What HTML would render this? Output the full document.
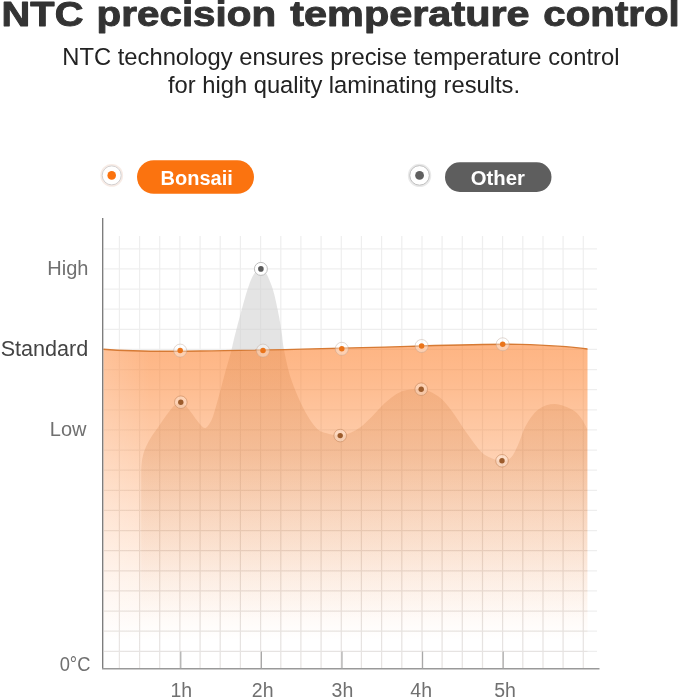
<!DOCTYPE html>
<html><head><meta charset="utf-8"><title>NTC precision temperature control</title>
<style>
html,body{margin:0;padding:0;background:#fff;}
body{width:679px;height:699px;overflow:hidden;position:relative;font-family:"Liberation Sans",sans-serif;}
svg{position:absolute;left:0;top:0;display:block}
text{font-family:"Liberation Sans",sans-serif;}
</style></head><body>
<svg width="679" height="699" viewBox="0 0 679 699">
<defs>
<linearGradient id="og" gradientUnits="userSpaceOnUse" x1="0" y1="349" x2="0" y2="669">
<stop offset="0" stop-color="#fd8432" stop-opacity="0.60"/>
<stop offset="0.097" stop-color="#fd8432" stop-opacity="0.55"/>
<stop offset="0.284" stop-color="#fd8432" stop-opacity="0.42"/>
<stop offset="0.534" stop-color="#fd8432" stop-opacity="0.23"/>
<stop offset="0.722" stop-color="#fd8432" stop-opacity="0.10"/>
<stop offset="0.91" stop-color="#fd8432" stop-opacity="0"/>
</linearGradient>
<linearGradient id="gg" gradientUnits="userSpaceOnUse" x1="0" y1="269" x2="0" y2="669">
<stop offset="0.0000" stop-color="#bc5a14" stop-opacity="0.15"/>
<stop offset="0.4650" stop-color="#bc5a14" stop-opacity="0.15"/>
<stop offset="0.5025" stop-color="#bc5a14" stop-opacity="0.128"/>
<stop offset="0.6250" stop-color="#bc5a14" stop-opacity="0.078"/>
<stop offset="0.7775" stop-color="#bc5a14" stop-opacity="0.03"/>
<stop offset="0.8775" stop-color="#bc5a14" stop-opacity="0"/>
</linearGradient>
<linearGradient id="lw" gradientUnits="userSpaceOnUse" x1="103" y1="0" x2="150" y2="0"><stop offset="0" stop-color="#fff" stop-opacity="0.17"/><stop offset="1" stop-color="#fff" stop-opacity="0"/></linearGradient>
<clipPath id="cpo"><path d="M103.4 349.2 C130 351.3 180 351.3 200 351 C260 350.5 330 348.5 420 346 C470 344.6 500 344 520 344.4 C550 345.2 575 347.3 587.5 349 L587.5 669 L103.4 669 Z"/></clipPath>
<clipPath id="cpa"><path d="M103.4 200 L103.4 349.2 C130 351.3 180 351.3 200 351 C260 350.5 330 348.5 420 346 C470 344.6 500 344 520 344.4 C550 345.2 575 347.3 587.5 349 L587.5 200 Z"/></clipPath>
<linearGradient id="g2" gradientUnits="userSpaceOnUse" x1="0" y1="349" x2="0" y2="669"><stop offset="0.2" stop-color="#7a3a10" stop-opacity="0"/><stop offset="0.62" stop-color="#7a3a10" stop-opacity="0.06"/><stop offset="1" stop-color="#6a3a20" stop-opacity="0.06"/></linearGradient>
</defs>

<path id="grid" d="M119.4 236V668M139.6 236V668M159.7 236V668M179.9 236V668M200.1 236V668M220.2 236V668M240.4 236V668M260.6 236V668M280.8 236V668M300.9 236V668M321.1 236V668M341.3 236V668M361.4 236V668M381.6 236V668M401.8 236V668M422.0 236V668M442.1 236V668M462.3 236V668M482.5 236V668M502.6 236V668M522.8 236V668M543.0 236V668M563.1 236V668M583.3 236V668M104 248.8H597M104 268.9H597M104 289.1H597M104 309.2H597M104 329.3H597M104 349.4H597M104 369.6H597M104 389.7H597M104 409.8H597M104 429.9H597M104 450.1H597M104 470.2H597M104 490.3H597M104 510.4H597M104 530.5H597M104 550.7H597M104 570.8H597M104 590.9H597M104 611.0H597M104 631.2H597M104 651.3H597" stroke="#000" stroke-opacity="0.068" stroke-width="1.25" fill="none"/>
<path id="orange" d="M103.4 349.2 C130 351.3 180 351.3 200 351 C260 350.5 330 348.5 420 346 C470 344.6 500 344 520 344.4 C550 345.2 575 347.3 587.5 349 L587.5 668 L103.4 668 Z" fill="url(#og)"/>
<rect x="103" y="340" width="50" height="329" fill="url(#lw)"/>
<path id="gray" d="M141.2 472.0C141.3 470.6 141.3 466.6 141.6 463.7C141.9 460.8 142.3 457.8 143.2 454.6C144.1 451.4 145.6 447.7 147.2 444.3C148.8 440.9 151.0 437.5 152.9 434.5C154.8 431.5 156.7 429.3 158.6 426.5C160.5 423.7 162.1 421.0 164.4 417.9C166.7 414.8 170.3 410.0 172.4 407.6C174.5 405.2 175.5 404.7 177.0 403.8C178.5 402.9 179.7 401.9 181.2 402.3C182.7 402.7 184.2 404.1 186.0 406.0C187.8 407.9 189.5 410.4 191.9 413.6C194.3 416.8 198.3 422.6 200.7 425.0C203.0 427.4 204.1 428.7 206.0 427.7C207.9 426.7 210.1 423.4 212.0 419.0C213.9 414.6 215.4 408.3 217.5 401.0C219.6 393.7 222.2 383.4 224.5 375.0C226.8 366.6 229.8 356.5 231.3 350.7C232.8 344.9 232.6 344.8 233.7 340.3C234.8 335.8 236.4 329.5 237.9 323.8C239.4 318.1 241.1 311.7 242.7 306.0C244.3 300.3 245.9 294.3 247.5 289.5C249.1 284.7 250.8 280.2 252.3 277.1C253.8 274.0 255.1 272.3 256.5 270.9C257.9 269.5 259.4 268.9 260.8 268.9C262.2 268.9 263.4 269.5 264.6 270.9C265.8 272.3 266.7 274.0 268.1 277.1C269.5 280.2 271.5 285.1 272.9 289.5C274.3 293.9 275.3 298.6 276.3 303.2C277.3 307.8 278.2 312.0 279.1 317.0C280.0 322.0 281.0 327.8 281.8 333.4C282.6 339.0 282.7 343.1 284.2 350.7C285.7 358.3 287.9 369.4 291.0 378.8C294.1 388.2 298.9 399.3 303.0 407.4C307.1 415.5 312.1 423.1 315.9 427.4C319.7 431.7 321.9 431.6 325.9 433.0C329.9 434.4 335.8 435.5 339.8 435.5C343.8 435.5 346.5 434.4 350.0 433.0C353.5 431.6 357.1 429.6 360.6 427.0C364.1 424.4 367.5 421.0 371.0 417.5C374.5 414.0 378.4 409.3 381.8 406.0C385.2 402.7 388.2 399.9 391.5 397.5C394.8 395.1 398.1 392.8 401.3 391.5C404.6 390.2 407.7 389.9 411.0 389.5C414.3 389.1 417.5 388.7 421.0 389.2C424.5 389.7 428.2 390.5 432.0 392.5C435.8 394.5 439.9 397.2 443.7 401.0C447.5 404.8 451.3 410.3 455.0 415.5C458.7 420.7 461.8 426.2 466.0 432.0C470.2 437.8 476.0 446.2 480.0 450.5C484.0 454.8 486.4 455.8 490.0 457.5C493.6 459.2 498.1 461.0 501.6 461.0C505.1 461.0 508.3 460.2 511.0 457.5C513.7 454.8 515.5 450.4 518.0 445.0C520.5 439.6 522.8 431.0 526.2 425.0C529.6 419.0 533.8 412.7 538.6 409.2C543.4 405.7 549.3 403.9 555.0 404.0C560.7 404.1 568.4 407.7 572.7 410.0C577.0 412.3 578.6 414.8 581.0 418.0C583.4 421.2 586.2 427.2 587.3 429.0L587.3 668L141.2 668Z" fill="#d2d2d2" fill-opacity="0.6" clip-path="url(#cpa)"/>
<path id="gray2" d="M141.2 472.0C141.3 470.6 141.3 466.6 141.6 463.7C141.9 460.8 142.3 457.8 143.2 454.6C144.1 451.4 145.6 447.7 147.2 444.3C148.8 440.9 151.0 437.5 152.9 434.5C154.8 431.5 156.7 429.3 158.6 426.5C160.5 423.7 162.1 421.0 164.4 417.9C166.7 414.8 170.3 410.0 172.4 407.6C174.5 405.2 175.5 404.7 177.0 403.8C178.5 402.9 179.7 401.9 181.2 402.3C182.7 402.7 184.2 404.1 186.0 406.0C187.8 407.9 189.5 410.4 191.9 413.6C194.3 416.8 198.3 422.6 200.7 425.0C203.0 427.4 204.1 428.7 206.0 427.7C207.9 426.7 210.1 423.4 212.0 419.0C213.9 414.6 215.4 408.3 217.5 401.0C219.6 393.7 222.2 383.4 224.5 375.0C226.8 366.6 229.8 356.5 231.3 350.7C232.8 344.9 232.6 344.8 233.7 340.3C234.8 335.8 236.4 329.5 237.9 323.8C239.4 318.1 241.1 311.7 242.7 306.0C244.3 300.3 245.9 294.3 247.5 289.5C249.1 284.7 250.8 280.2 252.3 277.1C253.8 274.0 255.1 272.3 256.5 270.9C257.9 269.5 259.4 268.9 260.8 268.9C262.2 268.9 263.4 269.5 264.6 270.9C265.8 272.3 266.7 274.0 268.1 277.1C269.5 280.2 271.5 285.1 272.9 289.5C274.3 293.9 275.3 298.6 276.3 303.2C277.3 307.8 278.2 312.0 279.1 317.0C280.0 322.0 281.0 327.8 281.8 333.4C282.6 339.0 282.7 343.1 284.2 350.7C285.7 358.3 287.9 369.4 291.0 378.8C294.1 388.2 298.9 399.3 303.0 407.4C307.1 415.5 312.1 423.1 315.9 427.4C319.7 431.7 321.9 431.6 325.9 433.0C329.9 434.4 335.8 435.5 339.8 435.5C343.8 435.5 346.5 434.4 350.0 433.0C353.5 431.6 357.1 429.6 360.6 427.0C364.1 424.4 367.5 421.0 371.0 417.5C374.5 414.0 378.4 409.3 381.8 406.0C385.2 402.7 388.2 399.9 391.5 397.5C394.8 395.1 398.1 392.8 401.3 391.5C404.6 390.2 407.7 389.9 411.0 389.5C414.3 389.1 417.5 388.7 421.0 389.2C424.5 389.7 428.2 390.5 432.0 392.5C435.8 394.5 439.9 397.2 443.7 401.0C447.5 404.8 451.3 410.3 455.0 415.5C458.7 420.7 461.8 426.2 466.0 432.0C470.2 437.8 476.0 446.2 480.0 450.5C484.0 454.8 486.4 455.8 490.0 457.5C493.6 459.2 498.1 461.0 501.6 461.0C505.1 461.0 508.3 460.2 511.0 457.5C513.7 454.8 515.5 450.4 518.0 445.0C520.5 439.6 522.8 431.0 526.2 425.0C529.6 419.0 533.8 412.7 538.6 409.2C543.4 405.7 549.3 403.9 555.0 404.0C560.7 404.1 568.4 407.7 572.7 410.0C577.0 412.3 578.6 414.8 581.0 418.0C583.4 421.2 586.2 427.2 587.3 429.0L587.3 668L141.2 668Z" fill="url(#gg)" clip-path="url(#cpo)"/>
<path id="grid2" d="M119.4 236V668M139.6 236V668M159.7 236V668M179.9 236V668M200.1 236V668M220.2 236V668M240.4 236V668M260.6 236V668M280.8 236V668M300.9 236V668M321.1 236V668M341.3 236V668M361.4 236V668M381.6 236V668M401.8 236V668M422.0 236V668M442.1 236V668M462.3 236V668M482.5 236V668M502.6 236V668M522.8 236V668M543.0 236V668M563.1 236V668M583.3 236V668M104 248.8H597M104 268.9H597M104 289.1H597M104 309.2H597M104 329.3H597M104 349.4H597M104 369.6H597M104 389.7H597M104 409.8H597M104 429.9H597M104 450.1H597M104 470.2H597M104 490.3H597M104 510.4H597M104 530.5H597M104 550.7H597M104 570.8H597M104 590.9H597M104 611.0H597M104 631.2H597M104 651.3H597" stroke="url(#g2)" stroke-width="1.25" fill="none" clip-path="url(#cpo)"/>
<path d="M103.4 349.2 C130 351.3 180 351.3 200 351 C260 350.5 330 348.5 420 346 C470 344.6 500 344 520 344.4 C550 345.2 575 347.3 587.5 349" fill="none" stroke="#d67a34" stroke-width="1.4"/>
<path d="M102.7 218V669" stroke="#777" stroke-width="1.3" fill="none"/>
<path d="M102 668.7H599.5" stroke="#999" stroke-width="1.6" fill="none"/>
<path d="M180.8 651.5V668.5" stroke="#a4a4a4" stroke-width="1.1"/>
<path d="M261.4 651.5V668.5" stroke="#a4a4a4" stroke-width="1.1"/>
<path d="M342.0 651.5V668.5" stroke="#a4a4a4" stroke-width="1.1"/>
<path d="M422.6 651.5V668.5" stroke="#a4a4a4" stroke-width="1.1"/>
<path d="M503.2 651.5V668.5" stroke="#a4a4a4" stroke-width="1.1"/>
<circle cx="180.2" cy="350.6" r="6.5" fill="#fff" fill-opacity="0.36" stroke="#b9a090" stroke-opacity="0.5" stroke-width="0.8"/><circle cx="180.2" cy="350.6" r="2.75" fill="#ea741a"/>
<circle cx="263.0" cy="350.6" r="6.5" fill="#fff" fill-opacity="0.36" stroke="#b9a090" stroke-opacity="0.5" stroke-width="0.8"/><circle cx="263.0" cy="350.6" r="2.75" fill="#ea741a"/>
<circle cx="341.8" cy="348.8" r="6.5" fill="#fff" fill-opacity="0.36" stroke="#b9a090" stroke-opacity="0.5" stroke-width="0.8"/><circle cx="341.8" cy="348.8" r="2.75" fill="#ea741a"/>
<circle cx="421.6" cy="346" r="6.5" fill="#fff" fill-opacity="0.36" stroke="#b9a090" stroke-opacity="0.5" stroke-width="0.8"/><circle cx="421.6" cy="346" r="2.75" fill="#ea741a"/>
<circle cx="502.7" cy="344.3" r="6.5" fill="#fff" fill-opacity="0.36" stroke="#b9a090" stroke-opacity="0.5" stroke-width="0.8"/><circle cx="502.7" cy="344.3" r="2.75" fill="#ea741a"/>
<circle cx="180.8" cy="402.2" r="6.3" fill="#fff" fill-opacity="0.3" stroke="#c98a60" stroke-opacity="0.7" stroke-width="0.9"/><circle cx="180.8" cy="402.2" r="2.7" fill="#9c5c2c"/>
<circle cx="260.9" cy="268.9" r="6.5" fill="#fff" stroke="#b8b8b8" stroke-width="0.9"/><circle cx="260.9" cy="268.9" r="2.8" fill="#595959"/>
<circle cx="340.2" cy="435.6" r="6.3" fill="#fff" fill-opacity="0.3" stroke="#c98a60" stroke-opacity="0.7" stroke-width="0.9"/><circle cx="340.2" cy="435.6" r="2.7" fill="#9c5c2c"/>
<circle cx="421.2" cy="389.2" r="6.3" fill="#fff" fill-opacity="0.3" stroke="#c98a60" stroke-opacity="0.7" stroke-width="0.9"/><circle cx="421.2" cy="389.2" r="2.7" fill="#9c5c2c"/>
<circle cx="502.0" cy="460.8" r="6.3" fill="#fff" fill-opacity="0.3" stroke="#c98a60" stroke-opacity="0.7" stroke-width="0.9"/><circle cx="502.0" cy="460.8" r="2.7" fill="#9c5c2c"/>
<rect x="137" y="160.3" width="117" height="33.5" rx="16.75" fill="#fb730f"/>
<circle cx="111.7" cy="175.4" r="10.6" fill="none" stroke="#e9c7b4" stroke-opacity="0.35" stroke-width="1.6"/><circle cx="111.7" cy="175.4" r="9.5" fill="#fff" stroke="#cdc9c9" stroke-width="0.9"/><circle cx="111.7" cy="175.4" r="4.3" fill="#fb730f"/>
<text id="bonsaii" x="196.7" y="185" font-size="20" font-weight="bold" fill="#fff" text-anchor="middle">Bonsaii</text>
<rect x="445" y="162.3" width="106.5" height="29.6" rx="14.8" fill="#5e5e5e"/>
<circle cx="419.55" cy="175.4" r="10.9" fill="none" stroke="#999" stroke-opacity="0.22" stroke-width="1.6"/><circle cx="419.55" cy="175.4" r="9.8" fill="#fff" stroke="#b4b4b4" stroke-width="0.9"/><circle cx="419.55" cy="175.4" r="4.4" fill="#606060"/>
<text id="other" x="497.8" y="185.2" font-size="20.3" font-weight="bold" fill="#fff" text-anchor="middle">Other</text>
<text id="high" x="88.5" y="275" font-size="20" fill="#707070" text-anchor="end">High</text>
<text id="standard" x="88.3" y="356" font-size="21.6" fill="#444" text-anchor="end">Standard</text>
<text id="low" x="86.5" y="435.8" font-size="20" fill="#707070" text-anchor="end">Low</text>
<text id="zero" transform="translate(90.4,670.6) scale(0.94,1)" font-size="19.5" fill="#707070" text-anchor="end">0°C</text>
<text id="h1" x="181.3" y="696.5" font-size="19.5" fill="#707070" text-anchor="middle">1h</text>
<text id="h2" x="262.7" y="696.5" font-size="19.5" fill="#707070" text-anchor="middle">2h</text>
<text id="h3" x="342.4" y="696.5" font-size="19.5" fill="#707070" text-anchor="middle">3h</text>
<text id="h4" x="421.2" y="696.5" font-size="19.5" fill="#707070" text-anchor="middle">4h</text>
<text id="h5" x="505.1" y="696.5" font-size="19.5" fill="#707070" text-anchor="middle">5h</text>
<text id="title" y="26.4" font-size="35.2" font-weight="bold" fill="#333" stroke="#333" stroke-width="0.95" stroke-linejoin="round"><tspan x="1.64" textLength="81.73" lengthAdjust="spacingAndGlyphs">NTC</tspan> <tspan x="96.6" textLength="179.54" lengthAdjust="spacingAndGlyphs">precision</tspan> <tspan x="290.3" textLength="239.33" lengthAdjust="spacingAndGlyphs">temperature</tspan> <tspan x="543.36" textLength="136.42" lengthAdjust="spacingAndGlyphs">control</tspan></text>
<text id="sub1" x="340.9" y="65" font-size="23.76" fill="#222" text-anchor="middle">NTC technology ensures precise temperature control</text>
<text id="sub2" x="344.0" y="92.8" font-size="23.72" fill="#222" text-anchor="middle">for high quality laminating results.</text>
</svg></body></html>
